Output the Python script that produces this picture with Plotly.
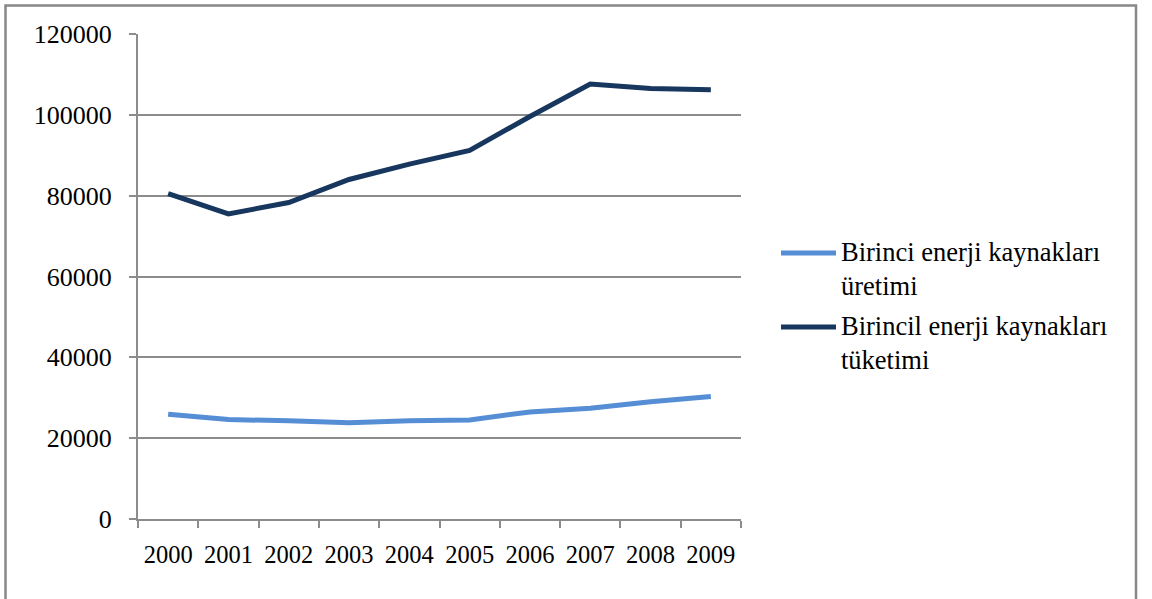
import plotly.graph_objects as go

years = ["2000", "2001", "2002", "2003", "2004", "2005", "2006", "2007", "2008", "2009"]
uretim = [25900, 24600, 24300, 23800, 24300, 24500, 26500, 27400, 29000, 30300]
tuketim = [80500, 75500, 78300, 84000, 87800, 91200, 99600, 107600, 106500, 106200]
series_names = ["Birinci enerji kaynakları<br>üretimi", "Birincil enerji kaynakları<br>tüketimi"]
series_colors = ["#558ED5", "#17375E"]
y_ticks = [0, 20000, 40000, 60000, 80000, 100000, 120000]

FONT = "Liberation Serif"
GRID = "#8c8c8c"

fig = go.Figure()
for vals, name, color in zip([uretim, tuketim], series_names, series_colors):
    fig.add_trace(go.Scatter(x=years, y=vals, mode="lines", name=name,
                             line=dict(color=color, width=5), showlegend=False))

W, H = 1152, 599
L, R, T, B = 138, 741, 34, 519


def px_x(p):
    return (p - L) / (R - L)


def px_y(p):
    return (B - p) / (B - T)


# frame around the whole chart
shapes = [dict(type="rect", xref="paper", yref="paper",
               x0=px_x(5.5), x1=px_x(1136), y0=px_y(640), y1=px_y(5.5),
               line=dict(color="#888888", width=2.5), layer="below")]
annotations = []

# legend: a line sample and a two-line label for each series
legend_rows = [253, 327]
for row, name, color in zip(legend_rows, series_names, series_colors):
    shapes.append(dict(type="line", xref="paper", yref="paper",
                       x0=px_x(781), x1=px_x(836), y0=px_y(row), y1=px_y(row),
                       line=dict(color=color, width=5)))
    annotations.append(dict(xref="paper", yref="paper", x=px_x(839), y=px_y(row - 18),
                            xanchor="left", yanchor="top", align="left", showarrow=False,
                            text=name, font=dict(family=FONT, size=26.5, color="black")))

fig.update_layout(
    width=W, height=H,
    margin=dict(l=L, r=W - R, t=T, b=H - B),
    paper_bgcolor="white", plot_bgcolor="white",
    font=dict(family=FONT, size=24, color="black"),
    shapes=shapes, annotations=annotations,
)
fig.update_xaxes(type="category", range=[-0.5, len(years) - 0.5],
                 showgrid=False, showline=True, linecolor=GRID, linewidth=2,
                 ticks="outside", tickson="boundaries", ticklen=7, tickcolor=GRID, tickwidth=2,
                 ticklabelstandoff=13, tickfont=dict(family=FONT, size=24.5))
fig.update_yaxes(range=[0, 120000], tickvals=y_ticks, ticktext=[str(v) for v in y_ticks],
                 showgrid=True, gridcolor=GRID, gridwidth=2, zeroline=False,
                 showline=True, linecolor=GRID, linewidth=2,
                 ticks="outside", ticklen=7, tickcolor=GRID, tickwidth=2,
                 ticklabelstandoff=12, tickfont=dict(family=FONT, size=26))

fig.write_html("out.html")
